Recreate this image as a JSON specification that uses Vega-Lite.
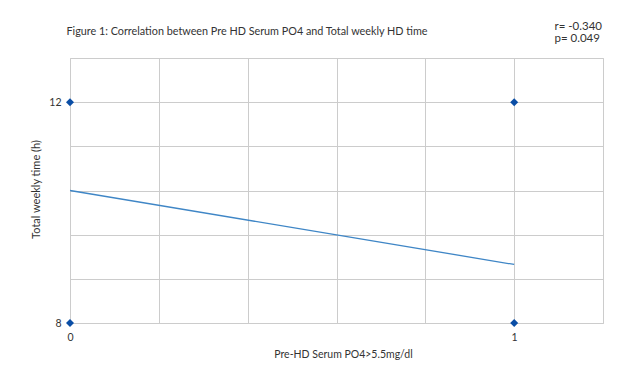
{
  "$schema": "https://vega.github.io/schema/vega-lite/v6.json",
  "width": 533,
  "height": 265,
  "autosize": {"type": "none"},
  "padding": {"left": 70, "top": 58, "right": 18, "bottom": 50},
  "background": "white",
  "config": {
    "font": "Lato",
    "view": {"stroke": "#cccccc", "strokeWidth": 1},
    "axis": {"labelColor": "#333333", "titleColor": "#333333", "titleFontWeight": "normal"}
  },
  "datasets": {
    "points": [
      {"po4_high": 0, "weekly_hours": 12},
      {"po4_high": 1, "weekly_hours": 12},
      {"po4_high": 0, "weekly_hours": 8},
      {"po4_high": 1, "weekly_hours": 8}
    ],
    "fit": [
      {"po4_high": 0, "weekly_hours": 10.4},
      {"po4_high": 1, "weekly_hours": 9.06}
    ]
  },
  "resolve": {"axis": {"x": "independent", "y": "independent"}},
  "layer": [
    {
      "data": {"name": "points"},
      "mark": {"type": "point", "shape": "diamond", "filled": true, "size": 64, "color": "#0a4ea6", "opacity": 1},
      "encoding": {
        "x": {
          "field": "po4_high", "type": "quantitative",
          "scale": {"domain": [0, 1.2], "nice": false, "zero": false},
          "axis": {
            "orient": "bottom",
            "values": [0, 0.2, 0.4, 0.6, 0.8, 1, 1.2],
            "labelExpr": "datum.value == 0 ? '0' : datum.value == 1 ? '1' : ''",
            "grid": true, "gridColor": "#cccccc", "gridWidth": 1, "gridOpacity": 1,
            "ticks": false, "domain": false,
            "labelFontSize": 10.5, "labelPadding": 9, "labelFlush": false,
            "title": "Pre-HD Serum PO4>5.5mg/dl",
            "titleFontSize": 10.5, "titleBaseline": "alphabetic", "titleAlign": "center",
            "titleX": 273, "titleY": 34
          }
        },
        "y": {
          "field": "weekly_hours", "type": "quantitative",
          "scale": {"domain": [8, 12.8], "nice": false, "zero": false},
          "axis": {
            "orient": "left",
            "values": [8, 8.8, 9.6, 10.4, 11.2, 12, 12.8],
            "labelExpr": "datum.value == 8 ? '8' : datum.value == 12 ? '12' : ''",
            "grid": true, "gridColor": "#cccccc", "gridWidth": 1, "gridOpacity": 1,
            "ticks": false, "domain": false,
            "labelFontSize": 10.5, "labelPadding": 9, "labelFlush": false,
            "title": "Total weekly time (h)",
            "titleFontSize": 11, "titleBaseline": "alphabetic", "titleAlign": "center",
            "titleAngle": 270, "titleX": -31, "titleY": 131
          }
        }
      }
    },
    {
      "data": {"name": "fit"},
      "mark": {"type": "line", "color": "#3f86c6", "strokeWidth": 1.3},
      "encoding": {
        "x": {
          "field": "po4_high", "type": "quantitative",
          "axis": {
            "orient": "top", "grid": false, "ticks": false, "domain": false, "labels": false,
            "title": "Figure 1: Correlation between Pre HD  Serum PO4 and Total weekly HD time",
            "titleFontSize": 10.8, "titleBaseline": "alphabetic", "titleAlign": "left",
            "titleX": -4, "titleY": -23.5
          }
        },
        "y": {
          "field": "weekly_hours", "type": "quantitative",
          "axis": {
            "orient": "right", "grid": false, "ticks": false, "domain": false, "labels": false,
            "title": ["r= -0.340", "p= 0.049"],
            "titleFontSize": 11.5, "titleBaseline": "alphabetic", "titleAlign": "left",
            "titleAngle": 0, "titleX": -49, "titleY": -29, "titleLineHeight": 12
          }
        }
      }
    }
  ]
}
